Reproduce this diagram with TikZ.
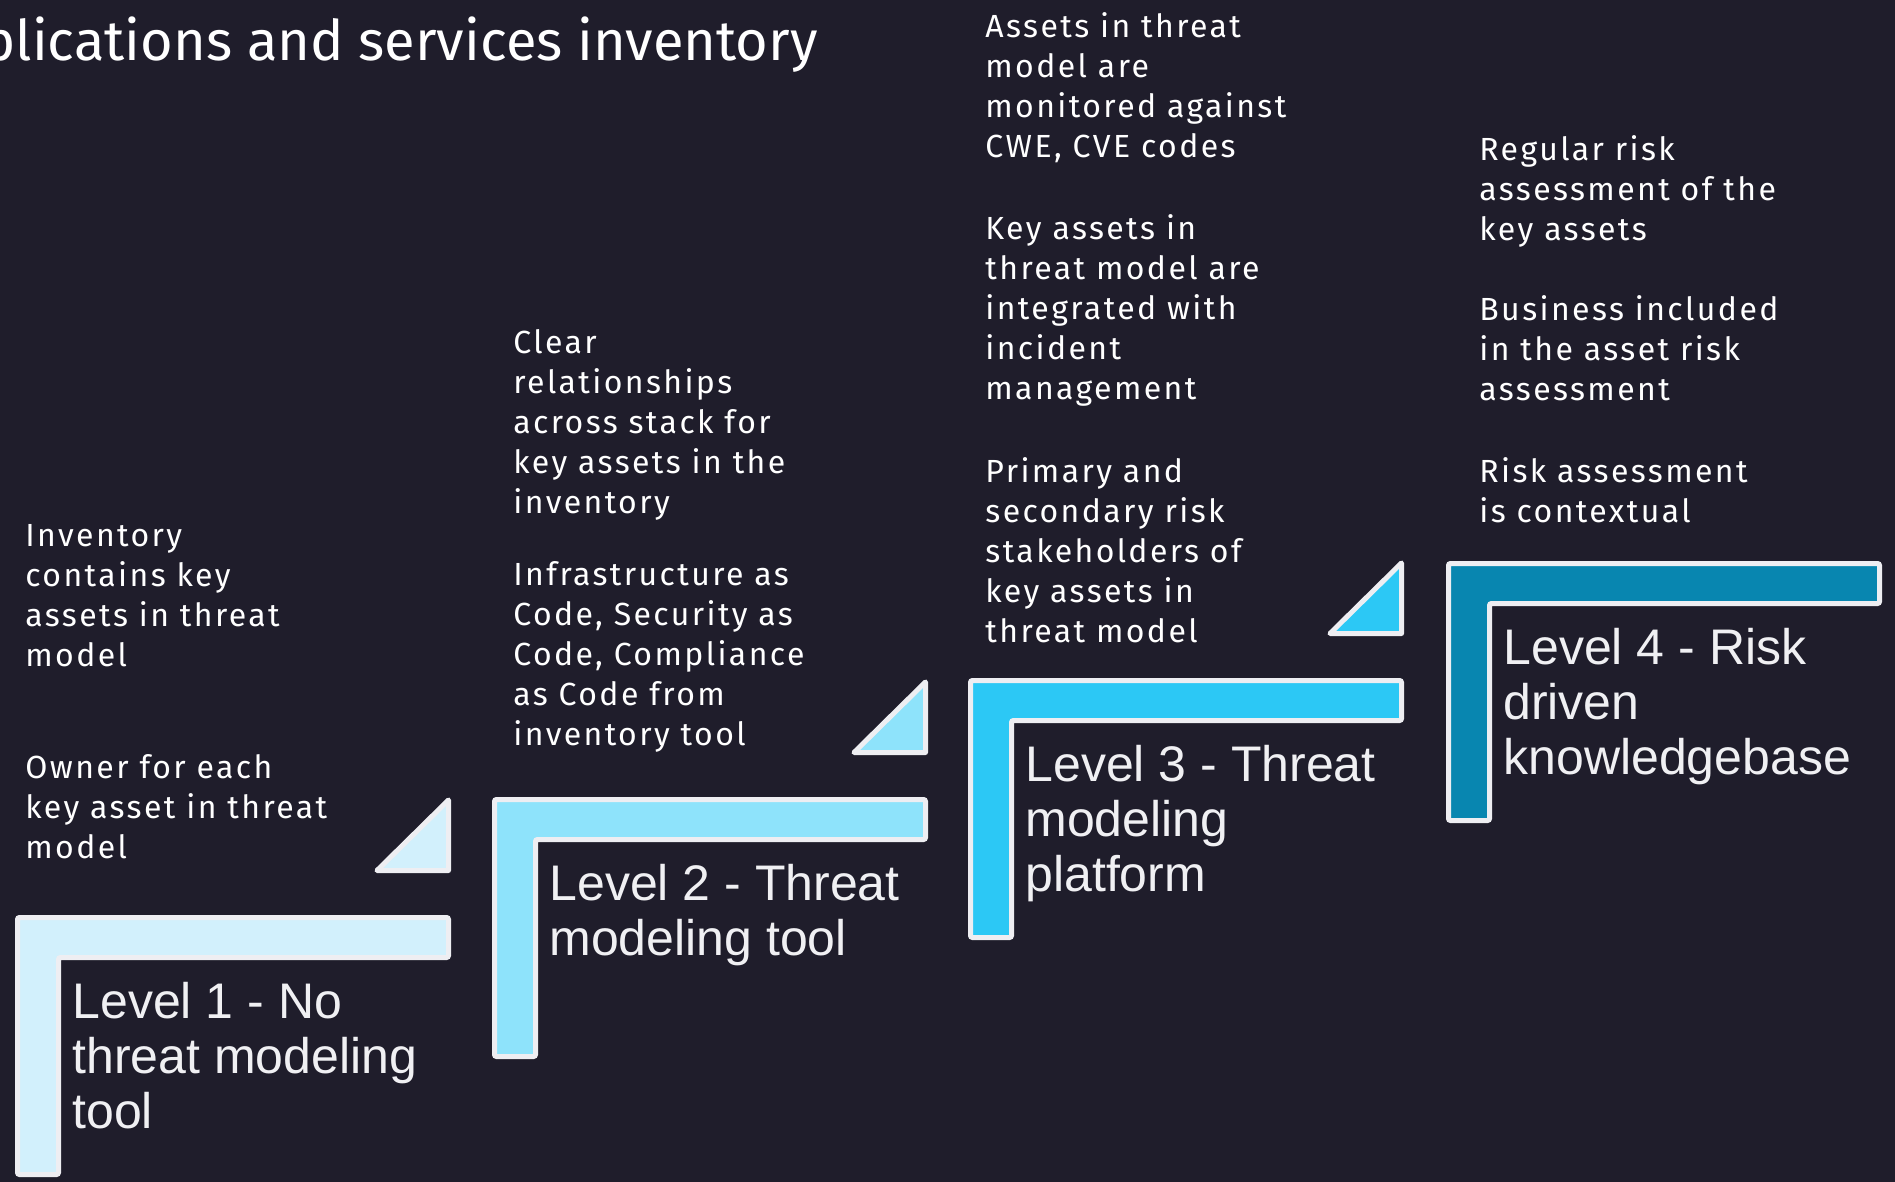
\documentclass[tikz,border=0pt]{standalone}
\usepackage{fontspec}
\setmainfont{Fira Sans}
\newfontfamily\notefont{Fira Sans}[LetterSpace=7.5]
\newfontfamily\levelfont{Liberation Sans}
\usetikzlibrary{positioning}

\definecolor{slidebg}{HTML}{1F1D2B}
\definecolor{edge}{HTML}{EEEEF2}
\definecolor{labelgray}{HTML}{F0F0F3}
\definecolor{lvlone}{HTML}{D2F0FC}
\definecolor{lvltwo}{HTML}{8EE3FB}
\definecolor{lvlthree}{HTML}{2CC8F5}
\definecolor{lvlfour}{HTML}{0886B0}

\begin{document}
\begin{tikzpicture}[x=0.5pt, y=-0.5pt,
		stair/.style={fill=#1, draw=edge, line width=2.5pt, rounded corners=1pt},
		wedge/.style={fill=#1, draw=edge, line width=2.5pt, line join=round},
		levellabel/.style={
			anchor=north west, inner sep=0pt, align=left, text=labelgray,
			font=\levelfont\fontsize{25pt}{27.5pt}\selectfont,
			execute at begin node=\rule{0pt}{20pt}
		},
		notes/.style={
			anchor=north west, inner sep=0pt, align=left, text=white,
			font=\notefont\fontsize{16pt}{20pt}\selectfont,
			execute at begin node=\rule{0pt}{13pt}
		}
	]
	\clip (0,0) rectangle (1895,1182);
	\fill[slidebg] (0,0) rectangle (1895,1182);

	\node[anchor=base east, inner sep=0pt, text=white,
		font=\fontsize{28pt}{33pt}\selectfont] (title) at (818,61)
		{plications and services inventory};

	% the four steps
	\foreach \x/\t/\c in {15/915/lvlone, 492/797/lvltwo, 968/678/lvlthree, 1446/561/lvlfour}{
		\draw[stair=\c] (\x+2.5,\t+2.5) -- ++(431,0) -- ++(0,40) -- ++(-390,0)
			-- ++(0,217) -- ++(-41,0) -- cycle;
	}
	% small wedges above the first three steps
	\foreach \x/\t/\c in {15/915/lvlone, 492/797/lvltwo, 968/678/lvlthree}{
		\draw[wedge=\c] (\x+433.5,\t-44.5) -- (\x+433.5,\t-115) -- (\x+362,\t-44.5) -- cycle;
	}

	\node[levellabel] (lvl1) at (72,982) {Level 1 - No\\threat modeling\\tool};
	\node[levellabel] (lvl2) at (549,864) {Level 2 - Threat\\modeling tool};
	\node[levellabel] (lvl3) at (1025,745) {Level 3 - Threat\\modeling\\platform};
	\node[levellabel] (lvl4) at (1503,628) {Level 4 - Risk\\driven\\knowledgebase};

	% what each level brings
	\node[notes] (inv) at (25,524) {Inventory\\contains key\\assets in threat\\model};
	\node[notes] (owner) at (25,754) {Owner for each\\key asset in threat\\model};

	\node[notes] (stack) at (513,329) {Clear\\relationships\\across stack for\\key assets in the\\inventory};
	\node[notes] (ascode) at (513,561) {Infrastructure as\\Code, Security as\\Code, Compliance\\as Code from\\inventory tool};

	\node[notes] (cwe) at (985,12) {Assets in threat\\model are\\monitored against\\CWE, CVE codes};
	\node[notes] (incident) at (985,214) {Key assets in\\threat model are\\integrated with\\incident\\management};
	\node[notes] (owners) at (985,457) {Primary and\\secondary risk\\stakeholders of\\key assets in\\threat model};

	\node[notes] (regular) at (1479,135) {Regular risk\\assessment of the\\key assets};
	\node[notes] (business) at (1479,295) {Business included\\in the asset risk\\assessment};
	\node[notes] (context) at (1479,457) {Risk assessment\\is contextual};
\end{tikzpicture}
\end{document}
